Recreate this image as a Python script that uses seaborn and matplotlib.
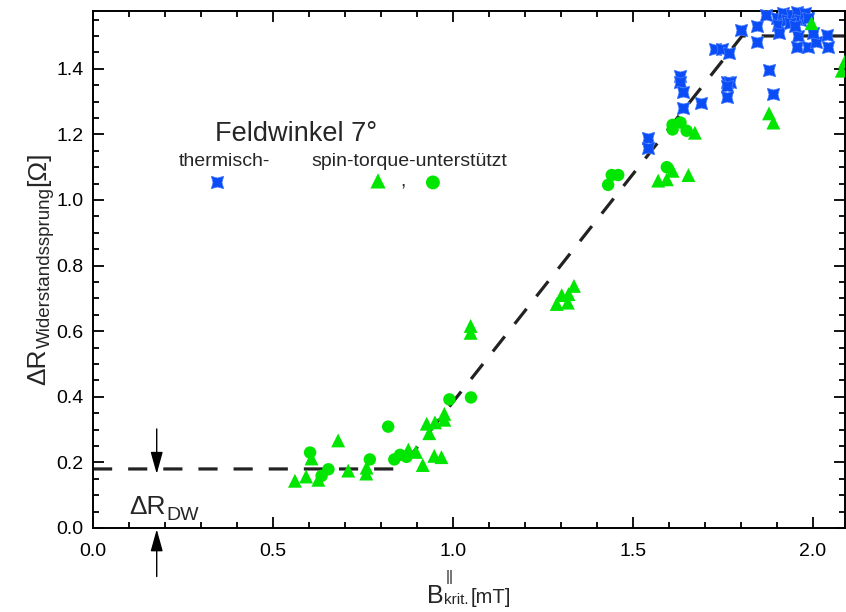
import matplotlib
matplotlib.use("Agg")
import matplotlib.pyplot as plt
from matplotlib.path import Path
from matplotlib.ticker import MultipleLocator, FormatStrFormatter
from matplotlib.transforms import IdentityTransform
import pandas as pd
import seaborn as sns

# spin-torque assisted switching, triangles
tri_B = [0.561, 0.592, 0.626, 0.607, 0.681, 0.709, 0.760, 0.759, 0.876, 0.897,
         0.916, 0.927, 0.950, 0.976, 0.976, 0.934, 0.948, 0.968,
         1.049, 1.049, 1.288, 1.302, 1.321, 1.319, 1.336,
         1.570, 1.594, 1.610, 1.654, 1.672, 1.878, 1.890, 1.996, 2.080, 2.089]
tri_R = [0.144, 0.157, 0.147, 0.212, 0.267, 0.175, 0.184, 0.166, 0.239, 0.232,
         0.192, 0.318, 0.322, 0.330, 0.348, 0.289, 0.220, 0.216,
         0.616, 0.595, 0.683, 0.710, 0.713, 0.687, 0.738,
         1.059, 1.063, 1.089, 1.076, 1.205, 1.264, 1.236, 1.539, 1.394, 1.422]

# spin-torque assisted switching, circles
circ_B = [0.603, 0.654, 0.635, 0.820, 0.769, 0.837, 0.853, 0.871, 0.990, 1.050,
          1.431, 1.441, 1.459, 1.594, 1.610, 1.610, 1.632, 1.649]
circ_R = [0.230, 0.179, 0.159, 0.309, 0.209, 0.209, 0.223, 0.217, 0.392, 0.398,
          1.046, 1.076, 1.076, 1.100, 1.229, 1.215, 1.236, 1.211]

# thermally activated switching
therm_B = [1.543, 1.543, 1.632, 1.632, 1.638, 1.638, 1.689, 1.728, 1.746, 1.767,
           1.760, 1.769, 1.760, 1.760, 1.800, 1.845, 1.845, 1.869, 1.879, 1.890,
           1.901, 1.904, 1.907, 1.918, 1.927, 1.941, 1.955, 1.964, 1.978, 1.959,
           1.956, 1.987, 2.008, 2.038, 2.041, 1.935, 1.950, 1.985, 2.000]
therm_R = [1.188, 1.158, 1.378, 1.361, 1.330, 1.281, 1.297, 1.459, 1.459, 1.447,
           1.361, 1.361, 1.346, 1.315, 1.518, 1.530, 1.481, 1.564, 1.396, 1.323,
           1.554, 1.534, 1.508, 1.569, 1.549, 1.564, 1.574, 1.549, 1.569, 1.500,
           1.467, 1.467, 1.483, 1.503, 1.467, 1.540, 1.530, 1.555, 1.510]

# guide line: plateau at dR_DW, linear rise, saturation
guide_B = [0.0, 0.853, 1.803, 2.10]
guide_R = [0.18, 0.18, 1.50, 1.50]

x_ticks = [0.0, 0.5, 1.0, 1.5, 2.0]
y_ticks = [0.0, 0.2, 0.4, 0.6, 0.8, 1.0, 1.2, 1.4]

GREEN = "#00e600"
BLUE = "#0a4cf5"

sns.set_theme(style="ticks")
plt.rcParams["font.family"] = ["Liberation Sans", "DejaVu Sans"]
plt.rcParams["axes.linewidth"] = 1.4

W, H = 846, 612
fig = plt.figure(figsize=(W / 100, H / 100), dpi=100)
ax = fig.add_axes([93 / W, 84 / H, 752 / W, 517.3 / H])

# concave square marker for thermal switching events
star = Path([(-1, -1), (0, -0.72), (1, -1), (0.72, 0), (1, 1), (0, 0.72),
             (-1, 1), (-0.72, 0), (-1, -1)], closed=True)

ax.plot(guide_B, guide_R, color="#222222", lw=2.3, linestyle=(0, (6, 5)),
        solid_capstyle="butt", dash_capstyle="butt", zorder=2)

df_therm = pd.DataFrame({"B": therm_B, "R": therm_R})
df_tri = pd.DataFrame({"B": tri_B, "R": tri_R})
df_circ = pd.DataFrame({"B": circ_B, "R": circ_R})

sns.scatterplot(data=df_therm, x="B", y="R", marker=star, s=80, color=BLUE,
                edgecolor="#4a80ff", linewidth=0.5, ax=ax, zorder=3,
                clip_on=False)
sns.scatterplot(data=df_tri, x="B", y="R", marker="^", s=100, color=GREEN,
                edgecolor="none", ax=ax, zorder=4)
sns.scatterplot(data=df_circ, x="B", y="R", marker="o", s=80, color=GREEN,
                edgecolor="none", ax=ax, zorder=4)

ax.set_xlim(0, 2.089)
ax.set_ylim(0, 1.577)
ax.set_xticks(x_ticks)
ax.set_yticks(y_ticks)
ax.xaxis.set_minor_locator(MultipleLocator(0.1))
ax.yaxis.set_minor_locator(MultipleLocator(0.05))
ax.xaxis.set_major_formatter(FormatStrFormatter("%.1f"))
ax.yaxis.set_major_formatter(FormatStrFormatter("%.1f"))
for s in ax.spines.values():
    s.set_visible(True)
    s.set_color("black")
ax.tick_params(which="both", direction="in", top=True, right=True,
               color="black", width=1.3, labelsize=14, labelcolor="black")
ax.tick_params(which="major", length=8)
ax.tick_params(which="minor", length=4.5)
ax.tick_params(axis="x", which="major", pad=11)
ax.tick_params(axis="y", which="major", pad=7)
ax.set_xlabel("")
ax.set_ylabel("")

# legend block
ax.text(0.162, 0.749, "Feldwinkel 7°", transform=ax.transAxes, fontsize=19.5,
        ha="left", va="baseline")
ax.text(0.1135, 0.700, "thermisch-", transform=ax.transAxes, fontsize=14,
        ha="left", va="baseline")
ax.text(0.291, 0.700, "spin-torque-unterstützt", transform=ax.transAxes,
        fontsize=14, ha="left", va="baseline")
ax.scatter([0.165], [0.669], marker=star, s=80, color=BLUE, edgecolor="#4a80ff",
           linewidth=0.5, transform=ax.transAxes, zorder=5)
ax.scatter([0.379], [0.671], marker="^", s=120, color=GREEN, edgecolor="none",
           transform=ax.transAxes, zorder=5)
ax.text(0.408, 0.661, ",", transform=ax.transAxes, fontsize=14,
        ha="left", va="baseline")
ax.scatter([0.452], [0.668], marker="o", s=100, color=GREEN, edgecolor="none",
           transform=ax.transAxes, zorder=5)

# dR_DW marker arrows
arrow = dict(arrowstyle="-|>,head_length=0.9,head_width=0.25", color="black",
             lw=1.0, shrinkA=0, shrinkB=0, mutation_scale=15)
ax.annotate("", xy=(0.177, 0.165), xytext=(0.177, 0.302), arrowprops=arrow,
            annotation_clip=False)
ax.annotate("", xy=(0.177, -0.004), xytext=(0.177, -0.148), arrowprops=arrow,
            annotation_clip=False)

PX = IdentityTransform()
fig.canvas.draw()
rend = fig.canvas.get_renderer()

# ΔR_DW label
t = fig.text(129.3, H - 514, "ΔR", fontsize=19, transform=PX,
             ha="left", va="baseline")
bb = t.get_window_extent(rend)
fig.text(bb.x1 + 1, H - 520, "DW", fontsize=14, transform=PX,
         ha="left", va="baseline")

# y-axis label
rot = dict(rotation=90, rotation_mode="anchor", ha="left", va="baseline",
           transform=PX)
t = fig.text(45, H - 385, "ΔR", fontsize=19, **rot)
bb = t.get_window_extent(rend)
t = fig.text(49.5, bb.y1 + 1, "Widerstandssprung", fontsize=13.5, **rot)
bb = t.get_window_extent(rend)
fig.text(45, bb.y1 + 1, "[Ω]", fontsize=19, **rot)

# x-axis label
t = fig.text(426.7, H - 603, "B", fontsize=18, transform=PX,
             ha="left", va="baseline")
bb = t.get_window_extent(rend)
fig.text(bb.x1 + 2, H - 581, "||", fontsize=11, transform=PX,
         ha="left", va="baseline")
t = fig.text(bb.x1 + 1, H - 604, "krit.", fontsize=11, transform=PX,
             ha="left", va="baseline")
bb = t.get_window_extent(rend)
fig.text(bb.x1 + 2, H - 603, "[mT]", fontsize=14.5, transform=PX,
         ha="left", va="baseline")

fig.savefig("out.png", dpi=100, facecolor="white")
